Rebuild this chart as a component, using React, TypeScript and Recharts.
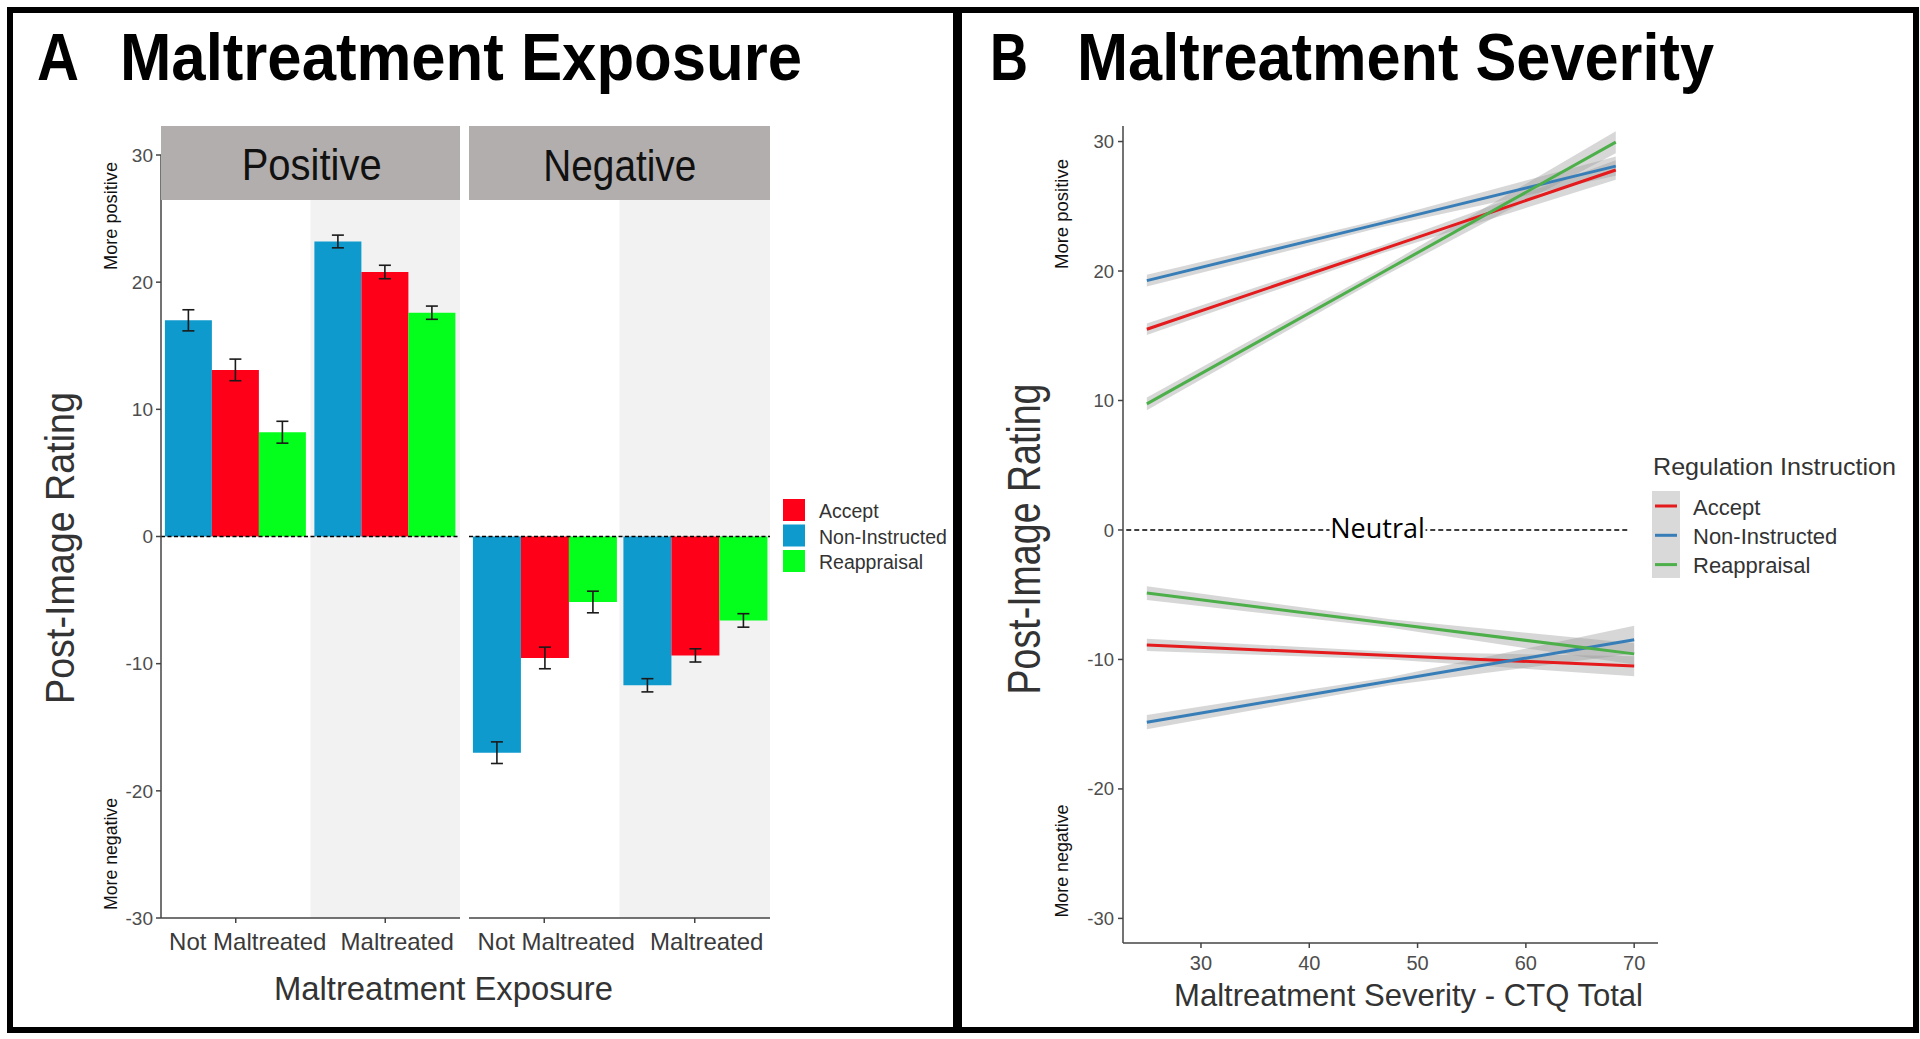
import {
  BarChart,
  Bar,
  XAxis,
  YAxis,
  ErrorBar,
  ReferenceLine,
  ReferenceArea,
  ComposedChart,
  Line,
  Area,
} from 'recharts';

const SANS = "'Liberation Sans', Arial, Helvetica, sans-serif";
const NARROW = "'Liberation Sans Narrow', 'Liberation Sans', Arial, sans-serif";

const BAR_BLUE = '#0f9acd';
const BAR_RED = '#ff0019';
const BAR_GREEN = '#05ff1c';
const LINE_RED = '#e41a1c';
const LINE_BLUE = '#377eb8';
const LINE_GREEN = '#4daf4a';

// ---- Panel A: maltreatment exposure (means and standard errors) ----
const exposureGroups = ['Not Maltreated', 'Maltreated'];
const legendLabels = ['Accept', 'Non-Instructed', 'Reappraisal'];

const posNonInstructed = [17.0, 23.2];
const posNonInstructedSe = [0.83, 0.5];
const posAccept = [13.1, 20.8];
const posAcceptSe = [0.85, 0.53];
const posReappraisal = [8.2, 17.6];
const posReappraisalSe = [0.86, 0.52];

const negNonInstructed = [-17.0, -11.7];
const negNonInstructedSe = [0.85, 0.52];
const negAccept = [-9.55, -9.35];
const negAcceptSe = [0.85, 0.52];
const negReappraisal = [-5.15, -6.6];
const negReappraisalSe = [0.85, 0.53];

const ratingTicks = [30, 20, 10, 0, -10, -20, -30];

// ---- Panel B: maltreatment severity (fitted lines and CI ribbons) ----
const ctqTicks = [30, 40, 50, 60, 70];
const ctqPositive = [25, 46.65, 68.3];
const ctqNegative = [25, 47.5, 70];

const posAcceptFit = [15.5, 21.65, 27.8];
const posAcceptLow = [15.05, 21.35, 27.05];
const posAcceptHigh = [15.95, 21.95, 28.55];
const posNonInstructedFit = [19.26, 23.68, 28.1];
const posNonInstructedLow = [18.8, 23.38, 27.35];
const posNonInstructedHigh = [19.72, 23.98, 28.85];
const posReappraisalFit = [9.74, 19.85, 29.95];
const posReappraisalLow = [9.25, 19.5, 29.1];
const posReappraisalHigh = [10.23, 20.2, 30.8];

const negAcceptFit = [-8.88, -9.7, -10.51];
const negAcceptLow = [-9.35, -10.0, -11.3];
const negAcceptHigh = [-8.4, -9.4, -9.75];
const negNonInstructedFit = [-14.85, -11.67, -8.48];
const negNonInstructedLow = [-15.4, -11.99, -9.55];
const negNonInstructedHigh = [-14.3, -11.35, -7.4];
const negReappraisalFit = [-4.87, -7.22, -9.57];
const negReappraisalLow = [-5.4, -7.55, -10.4];
const negReappraisalHigh = [-4.35, -6.9, -8.75];

const buildRows = (
  ni: number[], niSe: number[], ac: number[], acSe: number[], re: number[], reSe: number[]
) =>
  exposureGroups.map((group, i) => ({
    group,
    nonInstructed: ni[i],
    nonInstructedSe: niSe[i],
    accept: ac[i],
    acceptSe: acSe[i],
    reappraisal: re[i],
    reappraisalSe: reSe[i],
  }));

const positiveRows = buildRows(posNonInstructed, posNonInstructedSe, posAccept, posAcceptSe, posReappraisal, posReappraisalSe);
const negativeRows = buildRows(negNonInstructed, negNonInstructedSe, negAccept, negAcceptSe, negReappraisal, negReappraisalSe);

const toPoints = (xs: number[], ys: number[]) => xs.map((x, i) => ({ x, y: ys[i] }));
const toBand = (xs: number[], lo: number[], hi: number[]) => xs.map((x, i) => ({ x, band: [lo[i], hi[i]] }));

const fitSeries = [
  { name: 'posAccept', color: LINE_RED, line: toPoints(ctqPositive, posAcceptFit), band: toBand(ctqPositive, posAcceptLow, posAcceptHigh) },
  { name: 'posNonInstructed', color: LINE_BLUE, line: toPoints(ctqPositive, posNonInstructedFit), band: toBand(ctqPositive, posNonInstructedLow, posNonInstructedHigh) },
  { name: 'posReappraisal', color: LINE_GREEN, line: toPoints(ctqPositive, posReappraisalFit), band: toBand(ctqPositive, posReappraisalLow, posReappraisalHigh) },
  { name: 'negAccept', color: LINE_RED, line: toPoints(ctqNegative, negAcceptFit), band: toBand(ctqNegative, negAcceptLow, negAcceptHigh) },
  { name: 'negNonInstructed', color: LINE_BLUE, line: toPoints(ctqNegative, negNonInstructedFit), band: toBand(ctqNegative, negNonInstructedLow, negNonInstructedHigh) },
  { name: 'negReappraisal', color: LINE_GREEN, line: toPoints(ctqNegative, negReappraisalFit), band: toBand(ctqNegative, negReappraisalLow, negReappraisalHigh) },
];

const AXIS_COLOR = '#444';
const TICK_COLOR = '#4d4d4d';

const ExposureTick = ({ x, y, payload }: any) => (
  <text x={x + 12} y={y + 25} textAnchor="middle" fontSize={24} fill="#3a3a3a" fontFamily={SANS}>
    {payload.value}
  </text>
);

function ExposureFacet({ rows, showAxis }: { rows: typeof positiveRows; showAxis: boolean }) {
  return (
    <BarChart
      width={showAxis ? 359 : 301}
      height={833}
      data={rows}
      margin={{ top: 20, right: 0, left: 0, bottom: 0 }}
      barCategoryGap="2.6%"
      barGap={0}
    >
      <ReferenceArea x1="Maltreated" x2="Maltreated" y1={-30} y2={30} fill="#f2f2f2" fillOpacity={1} stroke="none" />
      <XAxis
        dataKey="group"
        height={50}
        interval={0}
        tickSize={5}
        tick={<ExposureTick />}
        axisLine={{ stroke: AXIS_COLOR, strokeWidth: 1.5 }}
        tickLine={{ stroke: AXIS_COLOR, strokeWidth: 1.5 }}
      />
      <YAxis
        hide={!showAxis}
        width={showAxis ? 60 : 0}
        type="number"
        domain={[-30, 30]}
        ticks={ratingTicks}
        interval={0}
        allowDataOverflow
        tickSize={5}
        tickMargin={3}
        tick={{ fill: TICK_COLOR, fontSize: 19, fontFamily: SANS }}
        axisLine={{ stroke: AXIS_COLOR, strokeWidth: 1.5 }}
        tickLine={{ stroke: AXIS_COLOR, strokeWidth: 1.5 }}
      />
      <Bar dataKey="nonInstructed" fill={BAR_BLUE} isAnimationActive={false}>
        <ErrorBar dataKey="nonInstructedSe" width={6} stroke="#1a1a1a" strokeWidth={1.6} />
      </Bar>
      <Bar dataKey="accept" fill={BAR_RED} isAnimationActive={false}>
        <ErrorBar dataKey="acceptSe" width={6} stroke="#1a1a1a" strokeWidth={1.6} />
      </Bar>
      <Bar dataKey="reappraisal" fill={BAR_GREEN} isAnimationActive={false}>
        <ErrorBar dataKey="reappraisalSe" width={6} stroke="#1a1a1a" strokeWidth={1.6} />
      </Bar>
      <ReferenceLine y={0} stroke="#000" strokeWidth={1.6} strokeDasharray="4 2.5" />
    </BarChart>
  );
}

const NeutralLabel = ({ viewBox }: any) => {
  const cx = viewBox.x + viewBox.width / 2;
  const cy = viewBox.y + viewBox.height / 2;
  return (
    <g>
      <rect x={cx - 48} y={cy - 15} width={96} height={30} fill="#fff" />
      <text x={cx} y={cy + 8} textAnchor="middle" fontSize={27} fontFamily="'Open Sans', 'Noto Sans', sans-serif" fill="#000">
        Neutral
      </text>
    </g>
  );
};

function SeverityChart() {
  return (
    <ComposedChart width={595} height={887} margin={{ top: 0, right: 0, left: 0, bottom: 0 }}>
      <XAxis
        dataKey="x"
        type="number"
        domain={[22.8, 72.2]}
        ticks={ctqTicks}
        allowDataOverflow
        height={70}
        tickSize={5}
        tickMargin={8}
        tick={{ fill: TICK_COLOR, fontSize: 20, fontFamily: SANS }}
        axisLine={{ stroke: AXIS_COLOR, strokeWidth: 1.5 }}
        tickLine={{ stroke: AXIS_COLOR, strokeWidth: 1.5 }}
      />
      <YAxis
        type="number"
        width={60}
        domain={[-31.9, 31.2]}
        ticks={ratingTicks}
        interval={0}
        allowDataOverflow
        tickSize={5}
        tickMargin={4}
        tick={{ fill: TICK_COLOR, fontSize: 18.5, fontFamily: SANS }}
        axisLine={{ stroke: AXIS_COLOR, strokeWidth: 1.5 }}
        tickLine={{ stroke: AXIS_COLOR, strokeWidth: 1.5 }}
      />
      {fitSeries.map((s) => (
        <Area
          key={`${s.name}-band`}
          data={s.band}
          dataKey="band"
          type="linear"
          stroke="none"
          fill="#9a9a9a"
          fillOpacity={0.4}
          isAnimationActive={false}
        />
      ))}
      {fitSeries.map((s) => (
        <Line
          key={`${s.name}-line`}
          data={s.line}
          dataKey="y"
          type="linear"
          stroke={s.color}
          strokeWidth={3}
          dot={false}
          activeDot={false}
          isAnimationActive={false}
        />
      ))}
      <ReferenceLine
        segment={[{ x: 23.1, y: 0 }, { x: 69.5, y: 0 }]}
        stroke="#000"
        strokeWidth={1.5}
        strokeDasharray="5 3"
        label={<NeutralLabel />}
      />
    </ComposedChart>
  );
}

function Overlay() {
  const barColors = [BAR_RED, BAR_BLUE, BAR_GREEN];
  const lineColors = [LINE_RED, LINE_BLUE, LINE_GREEN];
  return (
    <svg width={1920} height={1039} style={{ position: 'absolute', left: 0, top: 0, pointerEvents: 'none' }}>
      {/* frames */}
      <rect x={7} y={7} width={1912} height={6} fill="#000" />
      <rect x={7} y={1027} width={1912} height={6} fill="#000" />
      <rect x={7} y={7} width={6} height={1026} fill="#000" />
      <rect x={953} y={7} width={9} height={1026} fill="#000" />
      <rect x={1913} y={7} width={6} height={1026} fill="#000" />

      {/* titles */}
      <text x={37} y={80} fontSize={67} fontWeight="bold" fontFamily={NARROW} textLength={42} lengthAdjust="spacingAndGlyphs">A</text>
      <text x={120} y={80} fontSize={67} fontWeight="bold" fontFamily={NARROW} textLength={682} lengthAdjust="spacingAndGlyphs">Maltreatment Exposure</text>
      <text x={990} y={80} fontSize={67} fontWeight="bold" fontFamily={NARROW} textLength={38} lengthAdjust="spacingAndGlyphs">B</text>
      <text x={1077} y={80} fontSize={67} fontWeight="bold" fontFamily={NARROW} textLength={637} lengthAdjust="spacingAndGlyphs">Maltreatment Severity</text>

      {/* facet strips */}
      <rect x={161} y={126} width={299} height={74} fill="#b2aead" />
      <rect x={469} y={126} width={301} height={74} fill="#b2aead" />
      <text x={241.7} y={180} fontSize={44} fontFamily={NARROW} fill="#111" textLength={140} lengthAdjust="spacingAndGlyphs">Positive</text>
      <text x={543.3} y={181} fontSize={44} fontFamily={NARROW} fill="#111" textLength={153} lengthAdjust="spacingAndGlyphs">Negative</text>

      {/* panel A axis titles */}
      <text x={274} y={1000} fontSize={33} fontFamily={SANS} fill="#333" textLength={339} lengthAdjust="spacingAndGlyphs">Maltreatment Exposure</text>
      <text x={0} y={0} transform="translate(74,548) rotate(-90)" textAnchor="middle" fontSize={40} fontFamily={SANS} fill="#333" textLength={312} lengthAdjust="spacingAndGlyphs">Post-Image Rating</text>
      <text x={0} y={0} transform="translate(117,216) rotate(-90)" textAnchor="middle" fontSize={18} fontFamily={SANS} fill="#111" textLength={108} lengthAdjust="spacingAndGlyphs">More positive</text>
      <text x={0} y={0} transform="translate(117,854) rotate(-90)" textAnchor="middle" fontSize={18} fontFamily={SANS} fill="#111" textLength={112} lengthAdjust="spacingAndGlyphs">More negative</text>

      {/* panel A legend */}
      {legendLabels.map((label, i) => (
        <g key={label}>
          <rect x={783} y={499 + i * 25.5} width={22} height={22} fill={barColors[i]} />
          <text x={819} y={518 + i * 25.5} fontSize={19.5} fontFamily={SANS} fill="#333">{label}</text>
        </g>
      ))}

      {/* panel B axis titles */}
      <text x={1174} y={1006} fontSize={32} fontFamily={NARROW} fill="#333" textLength={469} lengthAdjust="spacingAndGlyphs">Maltreatment Severity - CTQ Total</text>
      <text x={0} y={0} transform="translate(1040,539) rotate(-90)" textAnchor="middle" fontSize={46} fontFamily={NARROW} fill="#333" textLength={311} lengthAdjust="spacingAndGlyphs">Post-Image Rating</text>
      <text x={0} y={0} transform="translate(1068,214) rotate(-90)" textAnchor="middle" fontSize={18} fontFamily={SANS} fill="#111" textLength={110} lengthAdjust="spacingAndGlyphs">More positive</text>
      <text x={0} y={0} transform="translate(1068,861) rotate(-90)" textAnchor="middle" fontSize={18} fontFamily={SANS} fill="#111" textLength={113} lengthAdjust="spacingAndGlyphs">More negative</text>

      {/* panel B legend */}
      <text x={1653} y={475} fontSize={24.5} fontFamily={SANS} fill="#333" textLength={243} lengthAdjust="spacingAndGlyphs">Regulation Instruction</text>
      <rect x={1652} y={491} width={28} height={87} fill="#d9d9d9" />
      {legendLabels.map((label, i) => (
        <g key={label}>
          <line x1={1655} x2={1677} y1={506 + i * 29.3} y2={506 + i * 29.3} stroke={lineColors[i]} strokeWidth={3} />
          <text x={1693} y={515 + i * 29} fontSize={22} fontFamily={SANS} fill="#333">{label}</text>
        </g>
      ))}
    </svg>
  );
}

export default function App() {
  return (
    <div style={{ position: 'absolute', left: 0, top: 0, width: 1920, height: 1039, background: '#fff', overflow: 'hidden' }}>
      <div style={{ position: 'absolute', left: 101, top: 135 }}>
        <ExposureFacet rows={positiveRows} showAxis />
      </div>
      <div style={{ position: 'absolute', left: 469, top: 135 }}>
        <ExposureFacet rows={negativeRows} showAxis={false} />
      </div>
      <div style={{ position: 'absolute', left: 1063, top: 126 }}>
        <SeverityChart />
      </div>
      <Overlay />
    </div>
  );
}
